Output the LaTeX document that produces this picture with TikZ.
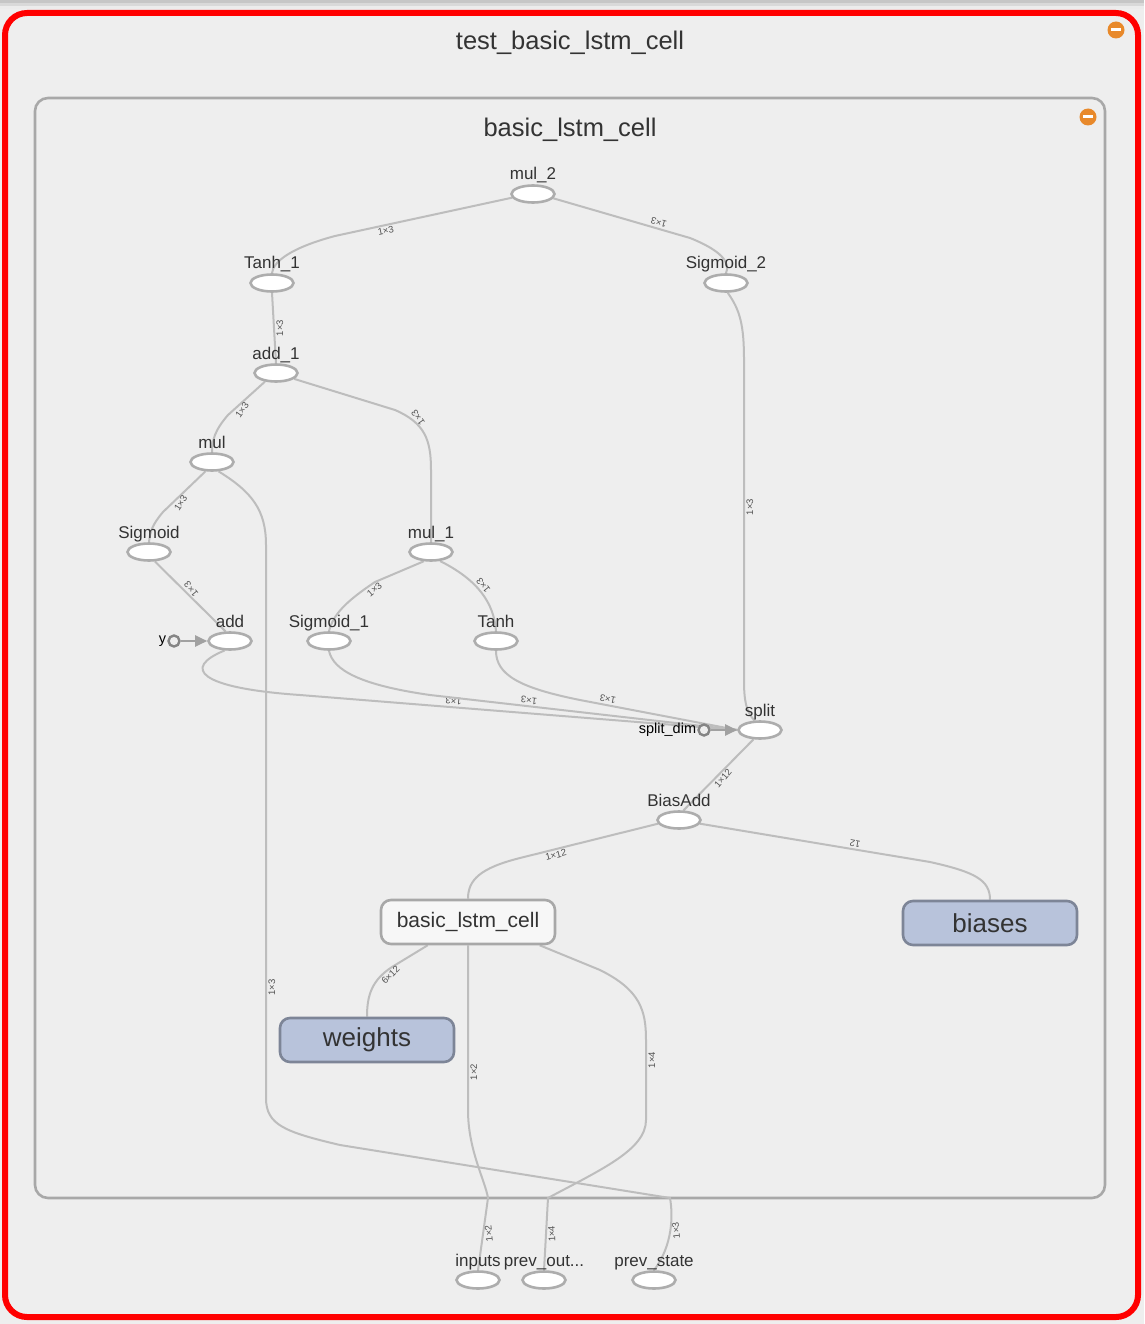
\documentclass[tikz,border=0pt]{standalone}
\usepackage{fontspec}
\setmainfont{Liberation Sans}
\usetikzlibrary{arrows.meta,positioning,shapes.geometric}
\definecolor{pagebg}{HTML}{EEEEEE}
\definecolor{edgegray}{HTML}{BDBDBD}
\definecolor{opstroke}{HTML}{ADADAD}
\definecolor{txtgray}{HTML}{333333}
\definecolor{groupline}{HTML}{A8A8A8}
\definecolor{varfill}{HTML}{B8C3DB}
\definecolor{varline}{HTML}{7D8597}
\definecolor{iconorange}{HTML}{E8892B}
\definecolor{constline}{HTML}{858585}
\pgfdeclarelayer{frame}
\pgfdeclarelayer{edges}
\pgfsetlayers{frame,edges,main}
\tikzset{
  opnode/.style={ellipse, draw=opstroke, line width=2.6pt, fill=white,
                 minimum width=43pt, minimum height=17pt, inner sep=0pt,
                 label distance=2pt},
  oplabel/.style={font=\fontsize{17}{20}\selectfont, text=txtgray,
                  text height=12pt, text depth=3pt, inner sep=1pt},
  groupbox/.style={rectangle, rounded corners=10pt, draw=groupline,
                   line width=2.6pt, fill=white!55!pagebg, minimum width=174pt,
                   minimum height=44pt, font=\fontsize{21}{24}\selectfont,
                   text=txtgray},
  varbox/.style={rectangle, rounded corners=10pt, draw=varline,
                 line width=2.6pt, fill=varfill, minimum width=174pt,
                 minimum height=44pt, font=\fontsize{26}{30}\selectfont,
                 text=txtgray},
  constnode/.style={circle, draw=constline, line width=2.4pt, fill=pagebg,
                    minimum size=11pt, inner sep=0pt, label distance=5pt},
  constlabel/.style={font=\fontsize{14.5}{16}\selectfont, text=black,
                     inner sep=1pt},
  grouptitle/.style={font=\fontsize{25.5}{28}\selectfont, text=txtgray},
  icon/.style={circle, fill=iconorange, minimum size=17pt, inner sep=0pt},
  edge/.style={draw=edgegray, line width=2pt},
  elbl/.style={font=\fontsize{9.5}{10}\selectfont, text=txtgray!85,
               anchor=north, inner sep=1.5pt},
  ctrlarrow/.style={draw=edgegray!85!black, line width=2pt,
                    -{Triangle[length=12pt,width=11pt]}},
}
\begin{document}
\begin{tikzpicture}[x=1pt,y=-1pt]
  \useasboundingbox (0,0) rectangle (1144,1324);
  \begin{pgfonlayer}{frame}
    \fill[pagebg] (0,0) rectangle (1144,1324);
    \fill[gray!45] (0,0) rectangle (1144,3);
    \fill[gray!30] (0,3) rectangle (1144,6);
    \fill[gray!15] (0,6) rectangle (1144,9);
    \draw[red, line width=6pt, rounded corners=22pt, fill=pagebg] (5,13) rectangle (1138,1317);
    \draw[groupline, line width=2.6pt, rounded corners=13pt] (35,98) rectangle (1105,1198);
  \end{pgfonlayer}

  % group titles and collapse icons
  \node[grouptitle] (outertitle) at (570,43) {test\_basic\_lstm\_cell};
  \node[grouptitle] (innertitle) at (570,130) {basic\_lstm\_cell};
  \node[icon] (outericon) at (1116,30) {};
  \node[icon] (innericon) at (1088,117) {};
  \fill[white] (1111,28.5) rectangle (1121,31.5);
  \fill[white] (1083,115.5) rectangle (1093,118.5);

  % ops
  \node[opnode, label={[oplabel]above:mul\_2}] (mul2) at (533,194) {};
  \node[opnode, label={[oplabel]above:Tanh\_1}] (tanh1) at (272,283) {};
  \node[opnode, label={[oplabel]above:Sigmoid\_2}] (sig2) at (726,283) {};
  \node[opnode, label={[oplabel]above:add\_1}] (add1) at (276,373) {};
  \node[opnode, label={[oplabel]above:mul}] (mul) at (212,462) {};
  \node[opnode, label={[oplabel]above:Sigmoid}] (sig) at (149,552) {};
  \node[opnode, label={[oplabel]above:mul\_1}] (mul1) at (431,552) {};
  \node[opnode, label={[oplabel]above:add}] (add) at (230,641) {};
  \node[opnode, label={[oplabel]above:Sigmoid\_1}] (sig1) at (329,641) {};
  \node[opnode, label={[oplabel]above:Tanh}] (tanh) at (496,641) {};
  \node[opnode, label={[oplabel]above:split}] (split) at (760,730) {};
  \node[opnode, label={[oplabel]above:BiasAdd}] (biasadd) at (679,820) {};
  \node[opnode, label={[oplabel]above:inputs}] (inputs) at (478,1280) {};
  \node[opnode, label={[oplabel]above:prev\_out...}] (prevout) at (544,1280) {};
  \node[opnode, label={[oplabel]above:prev\_state}] (prevstate) at (654,1280) {};
  \node[constnode, label={[constlabel]left:y}] (yconst) at (174,641) {};
  \node[constnode, label={[constlabel]left:split\_dim}] (splitdim) at (704,730) {};

  \node[groupbox] (cell) at (468,922) {basic\_lstm\_cell};
  \node[varbox] (biases) at (990,923) {biases};
  \node[varbox] (weights) at (367,1040) {weights};

  \begin{pgfonlayer}{edges}
    \draw[edge] (mul2.190) -- node[elbl, pos=.72, rotate=12] {1×3} (335,236)
      .. controls (290,248) and (273,262) .. (tanh1.north);
    \draw[edge] (mul2.-12) -- node[elbl, pos=.76, rotate=164] {1×3} (690,238)
      .. controls (720,250) and (731,262) .. (sig2.north);
    \draw[edge] (tanh1.south) -- node[elbl, pos=.5, rotate=90] {1×3} (add1.north);
    \draw[edge] (add1.218) -- node[elbl, pos=.75, rotate=55] {1×3} (228,415)
      .. controls (215,430) and (212,440) .. (mul.north);
    \draw[edge] (add1.-18) -- (395,410)
      .. controls (425,423) and (431,440) .. node[elbl, pos=.25, rotate=125] {1×3} (431,470)
      -- (mul1.north);
    \draw[edge] (mul.235) -- node[elbl, pos=.7, rotate=57] {1×3} (163,512)
      .. controls (152,525) and (150,532) .. (sig.north);
    \draw[edge] (mul.-55) .. controls (252,492) and (266,510) .. (266,545)
      -- node[elbl, pos=.8, rotate=90] {1×3} (266,1098)
      .. controls (266,1125) and (285,1132) .. (340,1145)
      -- (670,1198)
      .. controls (673,1215) and (673,1245) .. node[elbl, pos=.5, rotate=96] {1×3} (prevstate.north);
    \draw[edge] (sig.-58) -- node[elbl, pos=.45, rotate=130] {1×3} (add.115);
    \draw[edge] (mul1.232) -- (375,582)
      .. controls (345,602) and (333,615) .. node[elbl, pos=.05, rotate=40] {1×3} (sig1.north);
    \draw[edge] (mul1.-45) .. controls (478,580) and (494,603) .. node[elbl, pos=.45, rotate=128] {1×3} (tanh.north);
    \draw[edge] (add.240) .. controls (182,668) and (198,688) .. (300,695)
      -- node[elbl, pos=.35, rotate=175] {1×3} (split.west);
    \draw[edge] (sig1.south) .. controls (333,670) and (360,685) .. (430,695)
      -- node[elbl, pos=.32, rotate=173.5] {1×3} (split.west);
    \draw[edge] (tanh.south) .. controls (496,675) and (520,688) .. (580,700)
      -- node[elbl, pos=.17, rotate=169] {1×3} (split.west);
    \draw[edge] (sig2.-80) .. controls (740,310) and (744,325) .. (744,360)
      -- node[elbl, pos=.46, rotate=90] {1×3} (744,680)
      .. controls (744,700) and (746,712) .. (split.120);
    \draw[edge] (biasadd.65) -- node[elbl, pos=.5, rotate=50] {1×12} (split.235);
    \draw[edge] (biasadd.190) -- node[elbl, pos=.75, rotate=14] {1×12} (520,858)
      .. controls (480,868) and (468,880) .. (cell.north);
    \draw[edge] (biasadd.-10) -- node[elbl, pos=.67, rotate=170] {12} (930,862)
      .. controls (975,872) and (990,880) .. (biases.north);
    \draw[edge] (cell.-150) -- (392,967)
      .. controls (372,980) and (367,995) .. node[elbl, pos=.1, rotate=45] {6×12} (weights.north);
    \draw[edge] (cell.south) -- node[elbl, pos=.77, rotate=90] {1×2} (468,1110)
      .. controls (468,1150) and (485,1180) .. (488,1198)
      -- node[elbl, pos=.5, rotate=96] {1×2} (inputs.north);
    \draw[edge] (cell.-18) -- (600,970)
      .. controls (640,990) and (646,1010) .. (646,1040)
      -- node[elbl, pos=.25, rotate=90] {1×4} (646,1120)
      .. controls (646,1150) and (600,1170) .. (548,1198)
      -- node[elbl, pos=.5, rotate=92] {1×4} (prevout.north);
    \draw[ctrlarrow] (yconst) -- (add.west);
    \draw[ctrlarrow] (splitdim) -- (split.west);
  \end{pgfonlayer}
\end{tikzpicture}
\end{document}
